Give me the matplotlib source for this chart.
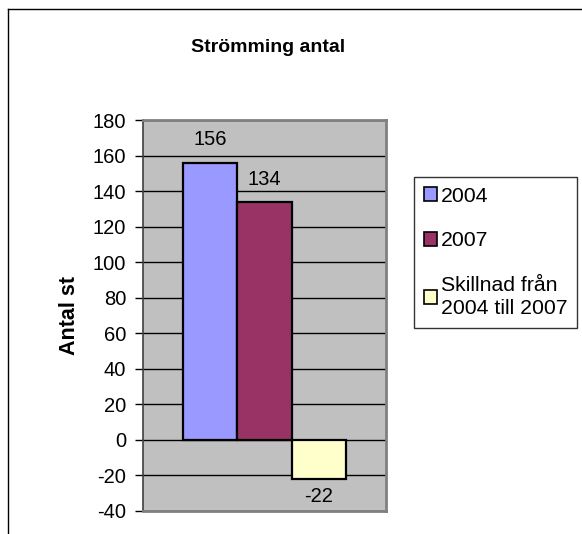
import matplotlib
matplotlib.use("Agg")
from matplotlib import pyplot as plt
from matplotlib.lines import Line2D

plt.rcParams["font.family"] = ["Liberation Sans", "DejaVu Sans"]
plt.rcParams["axes.unicode_minus"] = False

SERIES = ["2004", "2007", "Skillnad från\n2004 till 2007"]
VALUES = [156, 134, -22]
COLORS = ["#9999FF", "#993366", "#FFFFCC"]
YTICKS = list(range(-40, 181, 20))

FS = 14.5
W, H = 582, 534
fig = plt.figure(figsize=(W / 100, H / 100), dpi=100)
ax = fig.add_axes([143 / W, 1 - 511 / H, (386 - 143) / W, (511 - 120) / H])
ax.set_facecolor("#C0C0C0")

bw = 0.2236
offsets = [-bw, 0, bw]
pads = [9.5, 9.5, 5.5]
for name, val, col, off, pad in zip(SERIES, VALUES, COLORS, offsets, pads):
    bars = ax.bar(off, val, width=bw, color=col, edgecolor="black",
                  linewidth=1.6, label=name, zorder=3)
    ax.bar_label(bars, labels=[str(val)], padding=pad, fontsize=FS, zorder=4)

ax.set_xlim(-0.5, 0.5)
ax.set_ylim(-40, 180)
ax.set_yticks(YTICKS)
ax.set_xticks([])
ax.tick_params(axis="y", labelsize=FS, length=6, width=1, pad=6,
               colors="black")
ax.yaxis.grid(True, color="black", linewidth=1, zorder=1)
ax.set_axisbelow(True)
for side in ("top", "right", "bottom"):
    ax.spines[side].set_color("#808080")
    ax.spines[side].set_linewidth(2)
ax.spines["left"].set_color("#404040")
ax.spines["left"].set_linewidth(1.2)
ax.set_ylabel("Antal st", fontsize=15.5, fontweight="bold", labelpad=9)

fig.text(268 / W, 1 - 48 / H, "Strömming antal", fontsize=14,
         fontweight="bold", ha="center", va="center")

leg = ax.legend(loc="upper left", bbox_to_anchor=(414 / W, 1 - 177 / H),
                bbox_transform=fig.transFigure, borderaxespad=0,
                fontsize=15.3, frameon=True, fancybox=False, shadow=False,
                handlelength=0.65, handleheight=0.65, handletextpad=0.15,
                labelspacing=1.2, borderpad=0.45)
leg.get_frame().set_edgecolor("black")
leg.get_frame().set_linewidth(1)
for h in leg.legend_handles:
    h.set_linewidth(1.2)
for t in leg.get_texts():
    t.set_linespacing(1.3)

# outer chart frame
fig.add_artist(Line2D([8 / W, 1], [1 - 9 / H, 1 - 9 / H],
                      transform=fig.transFigure, color="black", lw=1))
fig.add_artist(Line2D([8 / W, 8 / W], [0, 1 - 9 / H],
                      transform=fig.transFigure, color="black", lw=1))

fig.savefig("out.png", dpi=100)
